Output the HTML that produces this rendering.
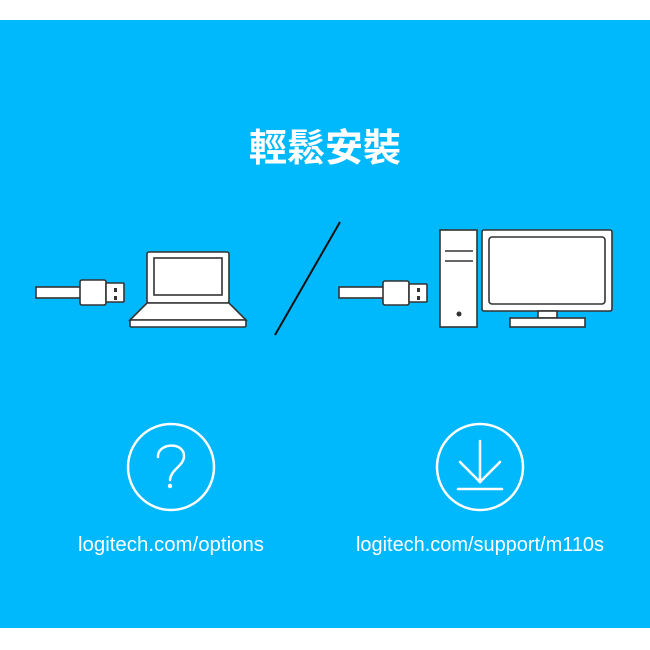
<!DOCTYPE html>
<html><head><meta charset="utf-8"><style>
html,body{margin:0;padding:0;background:#fff}
svg{display:block}
</style></head><body>
<svg width="650" height="650" viewBox="0 0 650 650" xmlns="http://www.w3.org/2000/svg">
<rect x="0" y="20" width="650" height="608" fill="#00b8fc"/>
<text x="325" y="161" text-anchor="middle" font-family="'Liberation Sans','Noto Sans CJK TC',sans-serif" font-weight="bold" font-size="38" fill="#fff">輕鬆安裝</text>
<g stroke="#333" stroke-width="1.6" fill="#fff">
<rect x="36" y="287" width="46" height="11"/>
<rect x="80" y="280" width="26" height="25" rx="2"/>
<rect x="106" y="283" width="18" height="19" rx="1"/>
<rect x="147" y="252" width="82" height="51" rx="2"/>
<rect x="154" y="258" width="68" height="37"/>
<polygon points="147,303 229,303 246,320 130,320"/>
<rect x="130" y="320" width="116" height="7" rx="1.5"/>
<rect x="339" y="287" width="46" height="11"/>
<rect x="383" y="281" width="26" height="24" rx="2"/>
<rect x="409" y="284" width="18" height="18" rx="1"/>
<rect x="440" y="230" width="37" height="97"/>
<rect x="482" y="230" width="130" height="81" rx="2"/>
<rect x="489" y="237" width="116" height="67" rx="3"/>
<rect x="538" y="311" width="19" height="7"/>
<rect x="510" y="318" width="75" height="9"/>
</g>
<g fill="#333">
<rect x="114" y="288" width="3" height="4"/><rect x="114" y="296" width="3" height="4"/>
<rect x="417" y="288" width="3" height="4"/><rect x="417" y="296" width="3" height="4"/>
<circle cx="459" cy="314" r="2.5"/>
</g>
<g stroke="#333" stroke-width="1.6">
<line x1="445" y1="251" x2="473" y2="251"/>
<line x1="445" y1="261" x2="473" y2="261"/>
</g>
<line x1="340" y1="222" x2="275" y2="335" stroke="#111" stroke-width="2"/>
<g stroke="#fff" stroke-width="2.5" fill="none" stroke-linecap="round">
<circle cx="171" cy="467" r="43"/>
<circle cx="480" cy="467" r="43"/>
<path d="M158,457 C157,443 184,441 184,456 C184,466 171,469 170,480"/>
<line x1="480" y1="441" x2="480" y2="482"/>
<polyline points="460,462 480,482 500,462"/>
<line x1="458" y1="489" x2="502" y2="489"/>
</g>
<circle cx="170" cy="486" r="2.2" fill="#fff"/>
<g font-family="'Liberation Sans',sans-serif" font-size="20" fill="#fff" text-anchor="middle">
<text x="171" y="551" textLength="186" lengthAdjust="spacingAndGlyphs">logitech.com/options</text>
<text x="480" y="551" textLength="248" lengthAdjust="spacingAndGlyphs">logitech.com/support/m110s</text>
</g>
</svg>
</body></html>
